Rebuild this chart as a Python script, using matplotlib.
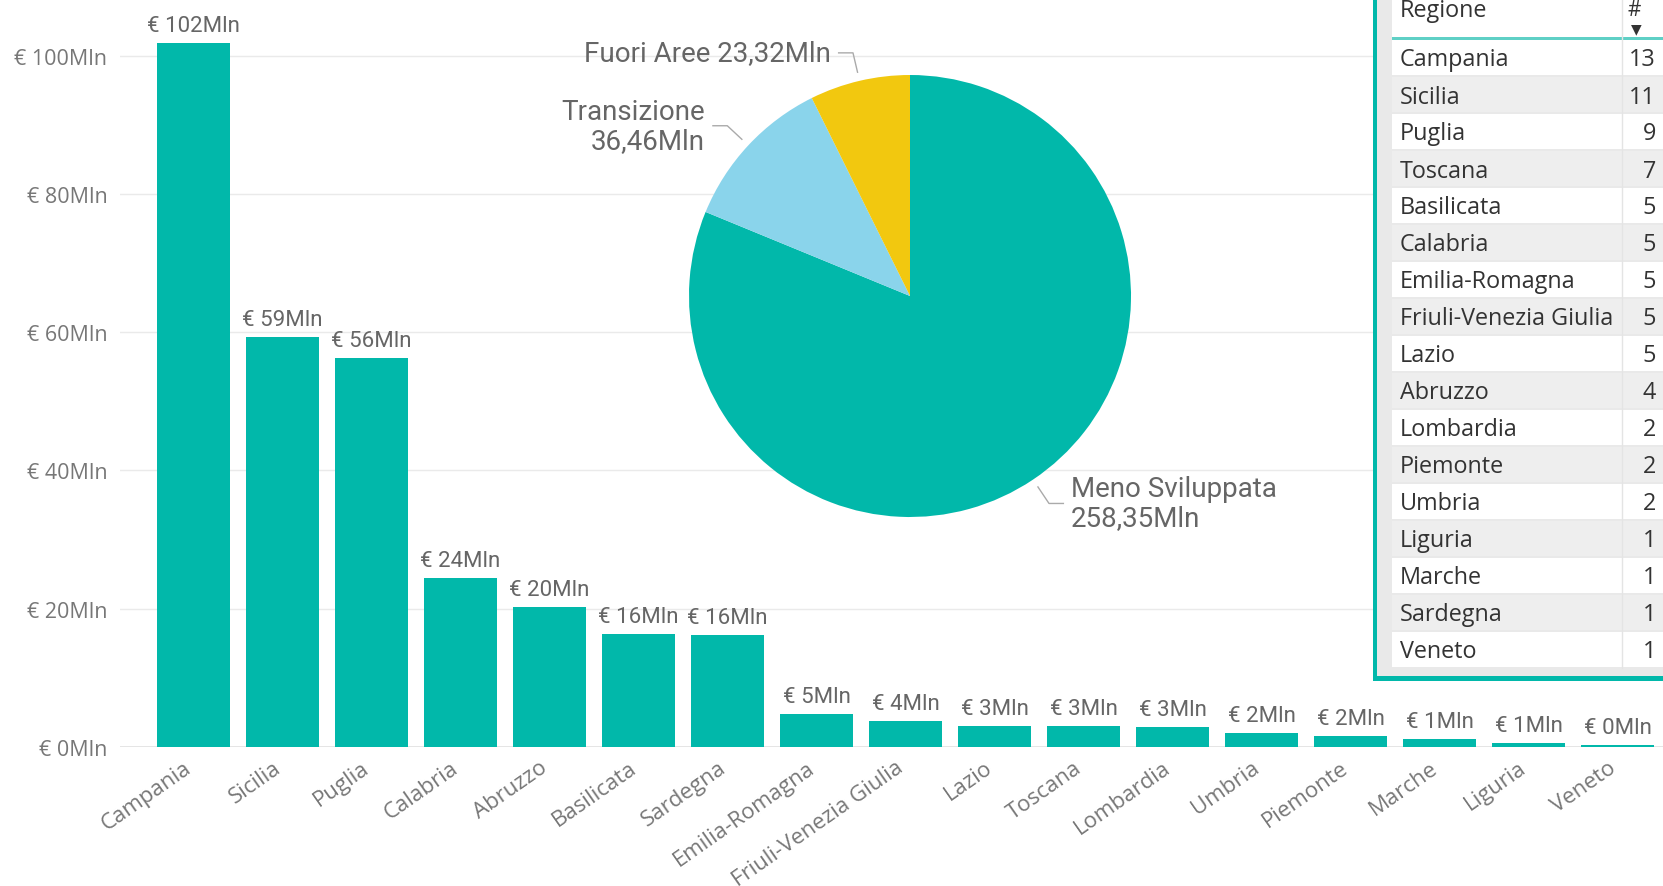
import numpy as np
import matplotlib
matplotlib.use("Agg")
import matplotlib.pyplot as plt
import matplotlib.transforms as mtrans
from matplotlib.patches import Rectangle

# importi per regione (milioni di euro)
regioni = ["Campania", "Sicilia", "Puglia", "Calabria", "Abruzzo", "Basilicata",
           "Sardegna", "Emilia-Romagna", "Friuli-Venezia Giulia", "Lazio", "Toscana",
           "Lombardia", "Umbria", "Piemonte", "Marche", "Liguria", "Veneto"]
importi = [101.8, 59.3, 56.3, 24.4, 20.3, 16.3, 16.2, 4.8, 3.7, 3.1, 3.0,
           2.85, 2.05, 1.55, 1.15, 0.6, 0.35]
y_ticks = [0, 20, 40, 60, 80, 100]

# torta per categoria di regione
aree = ["Meno Sviluppata", "Transizione", "Fuori Aree"]
aree_valori = [258.35, 36.46, 23.32]
aree_sep = ["\n", "\n", " "]
aree_colori = ["#01B8AA", "#8AD4EB", "#F2C80F"]

# tabella conteggio progetti
tab_regioni = ["Campania", "Sicilia", "Puglia", "Toscana", "Basilicata", "Calabria",
               "Emilia-Romagna", "Friuli-Venezia Giulia", "Lazio", "Abruzzo",
               "Lombardia", "Piemonte", "Umbria", "Liguria", "Marche", "Sardegna", "Veneto"]
tab_conteggi = [13, 11, 9, 7, 5, 5, 5, 5, 5, 4, 2, 2, 2, 1, 1, 1, 1]

TEAL = "#01B8AA"
W, H = 1663, 887
SANS = ["Open Sans", "DejaVu Sans"]
DIN = ["Roboto", "DejaVu Sans"]


def px_box(x0, y0, x1, y1):
    # pixel box (top-left origin) -> figure fraction
    return [x0 / W, 1 - y1 / H, (x1 - x0) / W, (y1 - y0) / H]


fig = plt.figure(figsize=(W / 100, H / 100), dpi=100)
fig.patch.set_facecolor("white")

# --- bar chart ---
ax = fig.add_axes(px_box(120, 0, W, 748))
x = np.arange(len(regioni))
bars = ax.bar(x, importi, width=0.82, color=TEAL, zorder=2)
ax.set_xlim(-0.826, 16.51)
ax.set_ylim(0, 108.2)
ax.set_yticks(y_ticks)
ax.set_yticklabels(["€ %dMln" % v for v in y_ticks], fontsize=15.5, color="#777777",
                   family=SANS)
ax.yaxis.grid(True, color="#EAEAEA", lw=1, zorder=0)
ax.axhline(0, color="#E2E2E2", lw=2, zorder=1)
for s in ax.spines.values():
    s.set_visible(False)
ax.tick_params(axis="both", length=0)
ax.tick_params(axis="y", pad=9)
ax.tick_params(axis="x", pad=7)
ax.set_xticks(x)
ax.set_xticklabels(regioni, rotation=35, ha="right", rotation_mode="anchor",
                   fontsize=16, color="#777777", family=SANS)
shift = mtrans.ScaledTranslation(-0.10, 0, fig.dpi_scale_trans)
for lab in ax.get_xticklabels():
    lab.set_transform(lab.get_transform() + shift)
ax.bar_label(bars, labels=["€ %.0fMln" % v for v in importi], padding=5,
             fontsize=16, color="#666666", family=DIN)

# --- pie ---
pax = fig.add_axes(px_box(689, 76, 1131, 518))
pax.patch.set_visible(False)
wedges, _ = pax.pie(aree_valori, colors=aree_colori, startangle=90, counterclock=False,
                    radius=1, wedgeprops=dict(linewidth=0))
pax.set_xlim(-1, 1)
pax.set_ylim(-1, 1)
pax.set_aspect("equal")
pax.axis("off")
for w, nome, val, sep in zip(wedges, aree, aree_valori, aree_sep):
    ang = np.deg2rad((w.theta1 + w.theta2) / 2)
    c, s = np.cos(ang), np.sin(ang)
    side = 1 if c > 0 else -1
    x0, y0 = 1.04 * c, 1.04 * s
    x1, y1 = 1.13 * c, 1.13 * s
    x2 = x1 + side * 0.065
    pax.plot([x0, x1, x2], [y0, y1, y1], color="#AAAAAA", lw=1, clip_on=False)
    txt = nome + sep + ("%.2f" % val).replace(".", ",") + "Mln"
    pax.text(x2 + side * 0.035, y1, txt, ha="left" if side > 0 else "right",
             va="center", fontsize=20, color="#666666", linespacing=1.1,
             family=DIN)

# --- table ---
tax = fig.add_axes(px_box(1373, 0, W, 682))
tax.set_xlim(1373, W)
tax.set_ylim(682, 0)
tax.axis("off")
tax.add_patch(Rectangle((1373, 0), W - 1373, 682, color="#E9E9E9", lw=0))
tax.add_patch(Rectangle((1392, 0), W - 1392, 39, color="white", lw=0))
tax.add_patch(Rectangle((1392, 38), W - 1392, 2.5, color="#5FD0C6", lw=0))
row_h = 37
for k, (nome, n) in enumerate(zip(tab_regioni, tab_conteggi)):
    y0 = 41 + row_h * k
    tax.add_patch(Rectangle((1392, y0), W - 1392, row_h - 2,
                            color="white" if k % 2 == 0 else "#EEEEEE", lw=0))
    yc = y0 + (row_h - 2) / 2 + 2
    tax.text(1400, yc, nome, ha="left", va="center", fontsize=16.8, color="#333333",
             family=SANS)
    tax.text(1656, yc, str(n), ha="right", va="center", fontsize=16.8, color="#333333",
             family=SANS)
tax.plot([1622, 1622], [0, 669], color="#E4E4E4", lw=1)
tax.text(1400, 17, "Regione", ha="left", va="baseline", fontsize=16.8, color="#333333",
         family=SANS)
tax.text(1628, 16, "#", ha="left", va="baseline", fontsize=15, color="#333333",
         family=SANS)
tax.text(1636, 29, "▼", ha="center", va="center", fontsize=10, color="#333333",
         family=["DejaVu Sans"])
# bordo
tax.add_patch(Rectangle((1373, 0), 4, 682, color=TEAL, lw=0))
tax.add_patch(Rectangle((1373, 677), W - 1373, 5, color=TEAL, lw=0))

fig.savefig("out.png", dpi=100)
